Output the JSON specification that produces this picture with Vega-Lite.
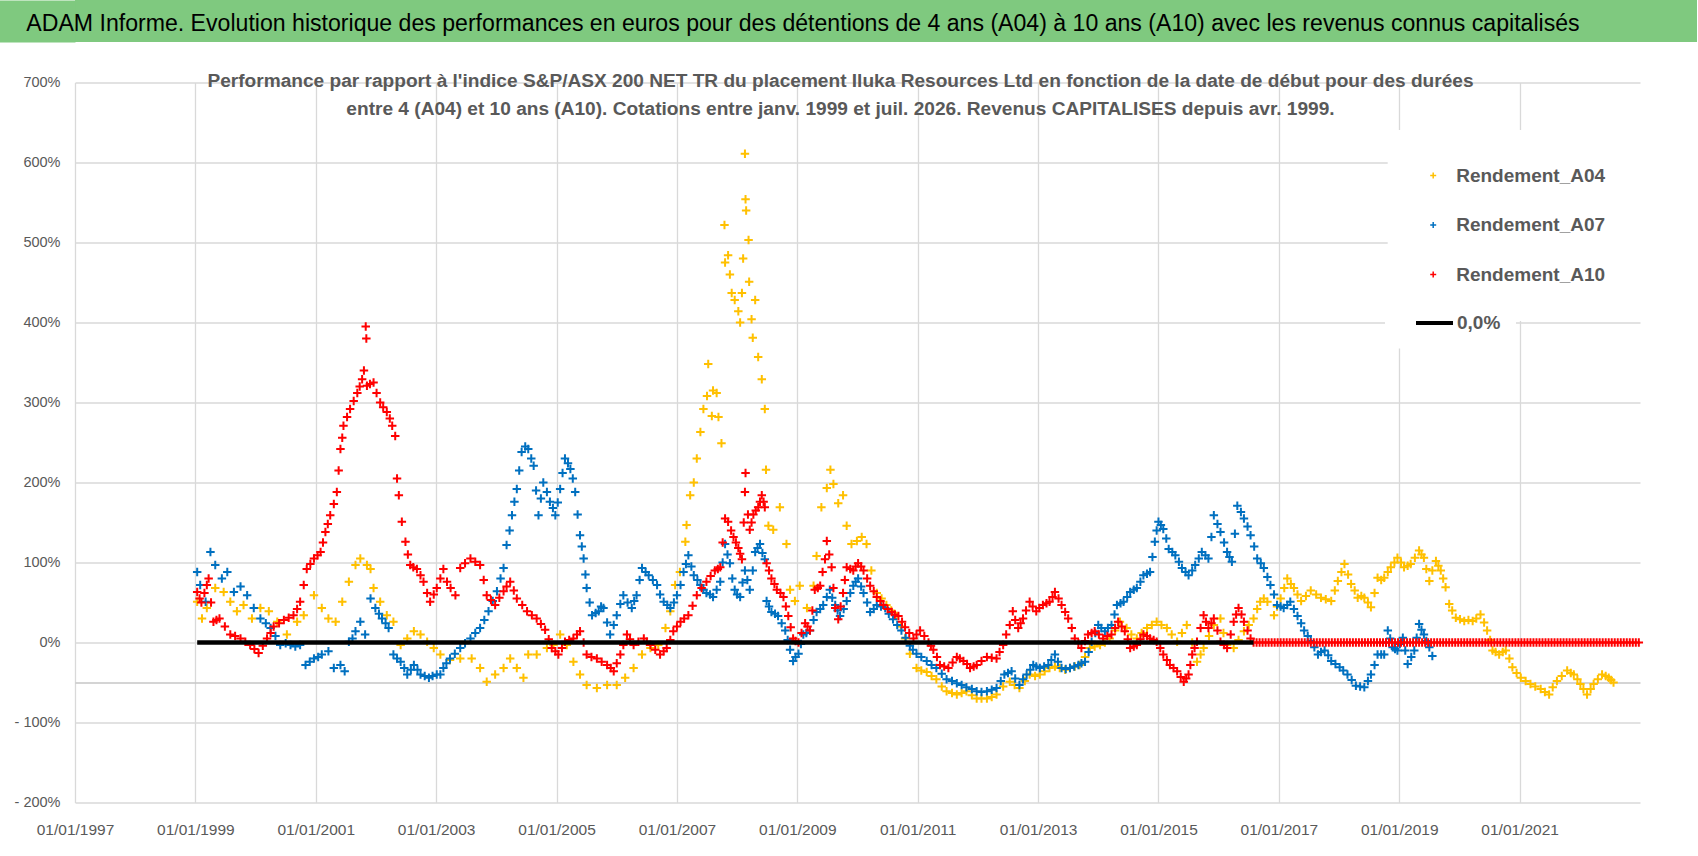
{
  "$schema": "https://vega.github.io/schema/vega-lite/v6.json",
  "description": "ADAM Informe: Iluka Resources Ltd performance vs S&P/ASX 200 NET TR, holding periods 4 to 10 years.",
  "padding": 0,
  "spacing": 29.5,
  "config": {"view": {"stroke": null}, "font": "Liberation Sans"},
  "datasets": {
    "a04": [
      {"t":1999.03,"v":51},{"t":1999.11,"v":30},{"t":1999.19,"v":43},{"t":1999.33,"v":68},{"t":1999.47,"v":63},{"t":1999.58,"v":51},{"t":1999.69,"v":39},{"t":1999.8,"v":47},{"t":1999.94,"v":30},{"t":2000.08,"v":43},{"t":2000.22,"v":39},{"t":2000.36,"v":26},{"t":2000.52,"v":10},{"t":2000.69,"v":26},{"t":2000.8,"v":34},{"t":2000.97,"v":59},{"t":2001.1,"v":43},{"t":2001.21,"v":30},{"t":2001.33,"v":26},{"t":2001.44,"v":51},{"t":2001.55,"v":76},{"t":2001.66,"v":97},{"t":2001.74,"v":105},{"t":2001.85,"v":97},{"t":2001.91,"v":92},{"t":2001.96,"v":68},{"t":2002.07,"v":51},{"t":2002.18,"v":34},{"t":2002.29,"v":26},{"t":2002.41,"v":-3},{"t":2002.52,"v":5},{"t":2002.63,"v":14},{"t":2002.74,"v":10},{"t":2002.85,"v":1},{"t":2002.96,"v":-7},{"t":2003.07,"v":-15},{"t":2003.23,"v":-22},{"t":2003.4,"v":-20},{"t":2003.59,"v":-20},{"t":2003.73,"v":-32},{"t":2003.84,"v":-49},{"t":2003.98,"v":-40},{"t":2004.12,"v":-32},{"t":2004.23,"v":-20},{"t":2004.34,"v":-32},{"t":2004.45,"v":-44},{"t":2004.53,"v":-15},{"t":2004.67,"v":-15},{"t":2004.84,"v":-7},{"t":2004.95,"v":-3},{"t":2005.06,"v":10},{"t":2005.17,"v":-3},{"t":2005.28,"v":-24},{"t":2005.39,"v":-40},{"t":2005.5,"v":-53},{"t":2005.67,"v":-57},{"t":2005.84,"v":-53},{"t":2006.0,"v":-53},{"t":2006.14,"v":-44},{"t":2006.28,"v":-32},{"t":2006.42,"v":-15},{"t":2006.56,"v":-7},{"t":2006.69,"v":-3},{"t":2006.81,"v":18},{"t":2006.89,"v":39},{"t":2006.97,"v":72},{"t":2007.05,"v":88},{"t":2007.14,"v":126},{"t":2007.16,"v":147},{"t":2007.22,"v":184},{"t":2007.28,"v":200},{"t":2007.33,"v":230},{"t":2007.39,"v":263},{"t":2007.44,"v":292},{"t":2007.5,"v":308},{"t":2007.52,"v":348},{"t":2007.58,"v":283},{"t":2007.6,"v":315},{"t":2007.66,"v":312},{"t":2007.69,"v":282},{"t":2007.74,"v":249},{"t":2007.79,"v":522},{"t":2007.8,"v":475},{"t":2007.85,"v":484},{"t":2007.88,"v":460},{"t":2007.91,"v":437},{"t":2007.96,"v":428},{"t":2008.02,"v":414},{"t":2008.05,"v":400},{"t":2008.08,"v":437},{"t":2008.1,"v":480},{"t":2008.13,"v":611},{"t":2008.14,"v":554},{"t":2008.15,"v":540},{"t":2008.19,"v":503},{"t":2008.2,"v":451},{"t":2008.24,"v":404},{"t":2008.26,"v":381},{"t":2008.3,"v":428},{"t":2008.35,"v":357},{"t":2008.41,"v":329},{"t":2008.46,"v":292},{"t":2008.48,"v":216},{"t":2008.52,"v":146},{"t":2008.6,"v":141},{"t":2008.71,"v":169},{"t":2008.82,"v":123},{"t":2008.88,"v":66},{"t":2008.96,"v":52},{"t":2009.04,"v":71},{"t":2009.16,"v":43},{"t":2009.27,"v":71},{"t":2009.32,"v":108},{"t":2009.4,"v":169},{"t":2009.49,"v":193},{"t":2009.55,"v":216},{"t":2009.6,"v":198},{"t":2009.68,"v":174},{"t":2009.76,"v":184},{"t":2009.82,"v":146},{"t":2009.9,"v":123},{"t":2009.99,"v":127},{"t":2010.07,"v":132},{"t":2010.15,"v":123},{"t":2010.23,"v":90},{"t":2010.32,"v":62},{"t":2010.4,"v":55},{"t":2010.48,"v":47},{"t":2010.56,"v":40},{"t":2010.65,"v":33},{"t":2010.72,"v":20},{"t":2010.79,"v":5},{"t":2010.87,"v":-14},{"t":2010.98,"v":-32},{"t":2011.06,"v":-35},{"t":2011.15,"v":-37},{"t":2011.23,"v":-42},{"t":2011.31,"v":-46},{"t":2011.4,"v":-55},{"t":2011.48,"v":-61},{"t":2011.57,"v":-63},{"t":2011.65,"v":-65},{"t":2011.73,"v":-63},{"t":2011.81,"v":-61},{"t":2011.9,"v":-66},{"t":2011.98,"v":-70},{"t":2012.06,"v":-70},{"t":2012.15,"v":-70},{"t":2012.23,"v":-68},{"t":2012.31,"v":-65},{"t":2012.42,"v":-55},{"t":2012.53,"v":-49},{"t":2012.61,"v":-53},{"t":2012.69,"v":-57},{"t":2012.78,"v":-48},{"t":2012.86,"v":-40},{"t":2012.95,"v":-42},{"t":2013.03,"v":-40},{"t":2013.11,"v":-36},{"t":2013.19,"v":-32},{"t":2013.28,"v":-30},{"t":2013.36,"v":-32},{"t":2013.45,"v":-34},{"t":2013.53,"v":-32},{"t":2013.61,"v":-30},{"t":2013.69,"v":-28},{"t":2013.78,"v":-18},{"t":2013.86,"v":-7},{"t":2013.94,"v":-5},{"t":2014.03,"v":-3},{"t":2014.11,"v":0},{"t":2014.19,"v":5},{"t":2014.28,"v":15},{"t":2014.36,"v":26},{"t":2014.47,"v":18},{"t":2014.55,"v":10},{"t":2014.64,"v":5},{"t":2014.72,"v":12},{"t":2014.81,"v":18},{"t":2014.89,"v":22},{"t":2014.97,"v":26},{"t":2015.05,"v":22},{"t":2015.14,"v":18},{"t":2015.22,"v":10},{"t":2015.31,"v":1},{"t":2015.39,"v":12},{"t":2015.47,"v":22},{"t":2015.56,"v":0},{"t":2015.64,"v":-24},{"t":2015.7,"v":-15},{"t":2015.75,"v":-7},{"t":2015.84,"v":8},{"t":2015.92,"v":22},{"t":2016.03,"v":30},{"t":2016.08,"v":12},{"t":2016.14,"v":-3},{"t":2016.25,"v":-7},{"t":2016.33,"v":3},{"t":2016.42,"v":14},{"t":2016.5,"v":22},{"t":2016.58,"v":30},{"t":2016.64,"v":42},{"t":2016.69,"v":51},{"t":2016.75,"v":55},{"t":2016.81,"v":51},{"t":2016.92,"v":34},{"t":2016.97,"v":45},{"t":2017.03,"v":55},{"t":2017.09,"v":68},{"t":2017.14,"v":80},{"t":2017.2,"v":73},{"t":2017.25,"v":68},{"t":2017.31,"v":60},{"t":2017.37,"v":52},{"t":2017.45,"v":58},{"t":2017.53,"v":65},{"t":2017.62,"v":60},{"t":2017.7,"v":56},{"t":2017.78,"v":54},{"t":2017.87,"v":52},{"t":2017.93,"v":65},{"t":2017.98,"v":77},{"t":2018.04,"v":88},{"t":2018.09,"v":98},{"t":2018.15,"v":85},{"t":2018.2,"v":73},{"t":2018.26,"v":65},{"t":2018.31,"v":56},{"t":2018.37,"v":58},{"t":2018.42,"v":56},{"t":2018.48,"v":50},{"t":2018.53,"v":44},{"t":2018.59,"v":62},{"t":2018.64,"v":81},{"t":2018.7,"v":78},{"t":2018.75,"v":81},{"t":2018.81,"v":88},{"t":2018.86,"v":94},{"t":2018.92,"v":100},{"t":2018.97,"v":106},{"t":2019.03,"v":100},{"t":2019.08,"v":94},{"t":2019.14,"v":96},{"t":2019.19,"v":98},{"t":2019.26,"v":106},{"t":2019.33,"v":115},{"t":2019.37,"v":110},{"t":2019.41,"v":106},{"t":2019.45,"v":92},{"t":2019.5,"v":77},{"t":2019.55,"v":90},{"t":2019.61,"v":102},{"t":2019.65,"v":96},{"t":2019.69,"v":90},{"t":2019.73,"v":80},{"t":2019.77,"v":69},{"t":2019.83,"v":48},{"t":2019.88,"v":40},{"t":2019.94,"v":31},{"t":2020.01,"v":29},{"t":2020.08,"v":27},{"t":2020.15,"v":28},{"t":2020.22,"v":27},{"t":2020.28,"v":30},{"t":2020.35,"v":35},{"t":2020.41,"v":25},{"t":2020.46,"v":15},{"t":2020.51,"v":3},{"t":2020.55,"v":-10},{"t":2020.6,"v":-12},{"t":2020.66,"v":-15},{"t":2020.72,"v":-12},{"t":2020.77,"v":-10},{"t":2020.83,"v":-20},{"t":2020.88,"v":-31},{"t":2020.95,"v":-38},{"t":2021.02,"v":-44},{"t":2021.1,"v":-48},{"t":2021.18,"v":-52},{"t":2021.26,"v":-55},{"t":2021.35,"v":-58},{"t":2021.42,"v":-62},{"t":2021.49,"v":-65},{"t":2021.55,"v":-56},{"t":2021.62,"v":-48},{"t":2021.7,"v":-42},{"t":2021.79,"v":-35},{"t":2021.85,"v":-38},{"t":2021.9,"v":-40},{"t":2021.96,"v":-46},{"t":2022.01,"v":-52},{"t":2022.06,"v":-58},{"t":2022.12,"v":-65},{"t":2022.18,"v":-58},{"t":2022.23,"v":-52},{"t":2022.3,"v":-46},{"t":2022.37,"v":-40},{"t":2022.43,"v":-42},{"t":2022.48,"v":-44},{"t":2022.52,"v":-47},{"t":2022.56,"v":-50}
    ],
    "a07": [
      {"t":1999.03,"v":88},{"t":1999.08,"v":72},{"t":1999.17,"v":51},{"t":1999.25,"v":113},{"t":1999.33,"v":97},{"t":1999.44,"v":80},{"t":1999.53,"v":88},{"t":1999.64,"v":63},{"t":1999.75,"v":70},{"t":1999.86,"v":59},{"t":1999.97,"v":43},{"t":2000.08,"v":30},{"t":2000.17,"v":24},{"t":2000.25,"v":18},{"t":2000.33,"v":8},{"t":2000.41,"v":-3},{"t":2000.5,"v":-1},{"t":2000.58,"v":-3},{"t":2000.66,"v":-5},{"t":2000.74,"v":-3},{"t":2000.83,"v":-28},{"t":2000.9,"v":-24},{"t":2000.97,"v":-20},{"t":2001.04,"v":-18},{"t":2001.1,"v":-15},{"t":2001.21,"v":-11},{"t":2001.3,"v":-32},{"t":2001.41,"v":-28},{"t":2001.48,"v":-36},{"t":2001.55,"v":1},{"t":2001.61,"v":5},{"t":2001.66,"v":14},{"t":2001.74,"v":26},{"t":2001.82,"v":10},{"t":2001.91,"v":55},{"t":2001.99,"v":43},{"t":2002.05,"v":36},{"t":2002.1,"v":30},{"t":2002.16,"v":24},{"t":2002.21,"v":18},{"t":2002.29,"v":-15},{"t":2002.35,"v":-20},{"t":2002.41,"v":-24},{"t":2002.47,"v":-32},{"t":2002.52,"v":-40},{"t":2002.58,"v":-34},{"t":2002.63,"v":-28},{"t":2002.69,"v":-34},{"t":2002.74,"v":-40},{"t":2002.81,"v":-42},{"t":2002.88,"v":-44},{"t":2002.94,"v":-42},{"t":2003.01,"v":-40},{"t":2003.07,"v":-40},{"t":2003.12,"v":-32},{"t":2003.17,"v":-26},{"t":2003.23,"v":-20},{"t":2003.31,"v":-14},{"t":2003.4,"v":-7},{"t":2003.48,"v":-1},{"t":2003.57,"v":5},{"t":2003.65,"v":12},{"t":2003.73,"v":18},{"t":2003.8,"v":28},{"t":2003.87,"v":39},{"t":2003.94,"v":52},{"t":2004.01,"v":64},{"t":2004.07,"v":80},{"t":2004.12,"v":93},{"t":2004.17,"v":122},{"t":2004.22,"v":140},{"t":2004.26,"v":159},{"t":2004.3,"v":176},{"t":2004.34,"v":192},{"t":2004.38,"v":215},{"t":2004.42,"v":238},{"t":2004.48,"v":245},{"t":2004.53,"v":242},{"t":2004.58,"v":230},{"t":2004.62,"v":221},{"t":2004.66,"v":190},{"t":2004.7,"v":159},{"t":2004.74,"v":180},{"t":2004.78,"v":200},{"t":2004.84,"v":188},{"t":2004.89,"v":176},{"t":2004.94,"v":168},{"t":2004.98,"v":159},{"t":2005.02,"v":175},{"t":2005.06,"v":192},{"t":2005.1,"v":212},{"t":2005.14,"v":230},{"t":2005.19,"v":224},{"t":2005.23,"v":217},{"t":2005.27,"v":205},{"t":2005.31,"v":188},{"t":2005.35,"v":160},{"t":2005.39,"v":134},{"t":2005.42,"v":120},{"t":2005.45,"v":105},{"t":2005.48,"v":85},{"t":2005.5,"v":68},{"t":2005.55,"v":50},{"t":2005.59,"v":34},{"t":2005.65,"v":37},{"t":2005.7,"v":39},{"t":2005.74,"v":45},{"t":2005.78,"v":43},{"t":2005.84,"v":25},{"t":2005.89,"v":10},{"t":2005.95,"v":22},{"t":2006.0,"v":34},{"t":2006.06,"v":48},{"t":2006.11,"v":59},{"t":2006.18,"v":50},{"t":2006.25,"v":43},{"t":2006.29,"v":52},{"t":2006.33,"v":59},{"t":2006.38,"v":78},{"t":2006.42,"v":93},{"t":2006.48,"v":88},{"t":2006.53,"v":84},{"t":2006.6,"v":78},{"t":2006.67,"v":72},{"t":2006.72,"v":60},{"t":2006.78,"v":51},{"t":2006.84,"v":47},{"t":2006.89,"v":43},{"t":2006.95,"v":50},{"t":2007.0,"v":59},{"t":2007.06,"v":72},{"t":2007.11,"v":88},{"t":2007.15,"v":98},{"t":2007.19,"v":109},{"t":2007.24,"v":95},{"t":2007.28,"v":84},{"t":2007.34,"v":78},{"t":2007.39,"v":72},{"t":2007.44,"v":66},{"t":2007.49,"v":62},{"t":2007.55,"v":60},{"t":2007.6,"v":57},{"t":2007.66,"v":66},{"t":2007.72,"v":76},{"t":2007.76,"v":100},{"t":2007.8,"v":123},{"t":2007.84,"v":110},{"t":2007.88,"v":99},{"t":2007.92,"v":80},{"t":2007.96,"v":66},{"t":2008.0,"v":60},{"t":2008.05,"v":57},{"t":2008.09,"v":75},{"t":2008.13,"v":90},{"t":2008.17,"v":78},{"t":2008.21,"v":66},{"t":2008.26,"v":90},{"t":2008.3,"v":113},{"t":2008.34,"v":118},{"t":2008.38,"v":123},{"t":2008.42,"v":112},{"t":2008.46,"v":104},{"t":2008.49,"v":52},{"t":2008.53,"v":45},{"t":2008.57,"v":38},{"t":2008.63,"v":36},{"t":2008.68,"v":33},{"t":2008.74,"v":24},{"t":2008.8,"v":15},{"t":2008.84,"v":3},{"t":2008.88,"v":-9},{"t":2008.93,"v":-23},{"t":2008.97,"v":-18},{"t":2009.02,"v":-14},{"t":2009.06,"v":-2},{"t":2009.1,"v":10},{"t":2009.15,"v":12},{"t":2009.21,"v":15},{"t":2009.27,"v":28},{"t":2009.32,"v":38},{"t":2009.38,"v":42},{"t":2009.43,"v":47},{"t":2009.49,"v":57},{"t":2009.54,"v":66},{"t":2009.58,"v":56},{"t":2009.63,"v":47},{"t":2009.67,"v":40},{"t":2009.71,"v":33},{"t":2009.77,"v":42},{"t":2009.82,"v":52},{"t":2009.88,"v":62},{"t":2009.93,"v":71},{"t":2009.97,"v":76},{"t":2010.01,"v":80},{"t":2010.06,"v":70},{"t":2010.1,"v":62},{"t":2010.16,"v":50},{"t":2010.21,"v":38},{"t":2010.27,"v":42},{"t":2010.32,"v":47},{"t":2010.39,"v":45},{"t":2010.46,"v":43},{"t":2010.52,"v":36},{"t":2010.59,"v":29},{"t":2010.66,"v":22},{"t":2010.73,"v":15},{"t":2010.8,"v":6},{"t":2010.87,"v":-4},{"t":2010.92,"v":-9},{"t":2010.98,"v":-14},{"t":2011.06,"v":-18},{"t":2011.15,"v":-23},{"t":2011.23,"v":-28},{"t":2011.31,"v":-32},{"t":2011.4,"v":-39},{"t":2011.48,"v":-46},{"t":2011.57,"v":-48},{"t":2011.65,"v":-51},{"t":2011.73,"v":-53},{"t":2011.81,"v":-56},{"t":2011.9,"v":-58},{"t":2011.98,"v":-61},{"t":2012.06,"v":-62},{"t":2012.15,"v":-61},{"t":2012.23,"v":-59},{"t":2012.31,"v":-57},{"t":2012.38,"v":-48},{"t":2012.44,"v":-40},{"t":2012.5,"v":-38},{"t":2012.56,"v":-36},{"t":2012.62,"v":-45},{"t":2012.69,"v":-53},{"t":2012.75,"v":-46},{"t":2012.81,"v":-40},{"t":2012.87,"v":-34},{"t":2012.92,"v":-28},{"t":2012.97,"v":-30},{"t":2013.03,"v":-32},{"t":2013.1,"v":-30},{"t":2013.17,"v":-28},{"t":2013.22,"v":-22},{"t":2013.28,"v":-15},{"t":2013.33,"v":-24},{"t":2013.39,"v":-32},{"t":2013.46,"v":-33},{"t":2013.53,"v":-32},{"t":2013.6,"v":-30},{"t":2013.67,"v":-28},{"t":2013.72,"v":-26},{"t":2013.78,"v":-24},{"t":2013.84,"v":-12},{"t":2013.89,"v":1},{"t":2013.95,"v":12},{"t":2014.0,"v":22},{"t":2014.05,"v":18},{"t":2014.11,"v":14},{"t":2014.16,"v":18},{"t":2014.22,"v":22},{"t":2014.27,"v":35},{"t":2014.31,"v":47},{"t":2014.37,"v":49},{"t":2014.42,"v":51},{"t":2014.48,"v":57},{"t":2014.53,"v":63},{"t":2014.59,"v":66},{"t":2014.64,"v":68},{"t":2014.7,"v":76},{"t":2014.75,"v":84},{"t":2014.81,"v":86},{"t":2014.86,"v":88},{"t":2014.9,"v":107},{"t":2014.94,"v":126},{"t":2014.97,"v":140},{"t":2015.0,"v":151},{"t":2015.04,"v":147},{"t":2015.08,"v":142},{"t":2015.13,"v":130},{"t":2015.17,"v":117},{"t":2015.23,"v":113},{"t":2015.28,"v":109},{"t":2015.34,"v":101},{"t":2015.39,"v":93},{"t":2015.45,"v":88},{"t":2015.5,"v":84},{"t":2015.56,"v":90},{"t":2015.61,"v":97},{"t":2015.67,"v":105},{"t":2015.72,"v":113},{"t":2015.78,"v":109},{"t":2015.83,"v":105},{"t":2015.88,"v":132},{"t":2015.92,"v":159},{"t":2015.98,"v":148},{"t":2016.03,"v":138},{"t":2016.09,"v":125},{"t":2016.14,"v":113},{"t":2016.18,"v":107},{"t":2016.22,"v":101},{"t":2016.27,"v":136},{"t":2016.31,"v":171},{"t":2016.37,"v":163},{"t":2016.42,"v":155},{"t":2016.48,"v":145},{"t":2016.53,"v":134},{"t":2016.59,"v":120},{"t":2016.64,"v":105},{"t":2016.7,"v":99},{"t":2016.75,"v":93},{"t":2016.81,"v":82},{"t":2016.86,"v":72},{"t":2016.92,"v":60},{"t":2016.97,"v":47},{"t":2017.03,"v":45},{"t":2017.08,"v":43},{"t":2017.14,"v":47},{"t":2017.19,"v":51},{"t":2017.25,"v":42},{"t":2017.31,"v":33},{"t":2017.37,"v":24},{"t":2017.42,"v":15},{"t":2017.48,"v":8},{"t":2017.53,"v":2},{"t":2017.59,"v":-6},{"t":2017.65,"v":-15},{"t":2017.7,"v":-12},{"t":2017.76,"v":-10},{"t":2017.82,"v":-16},{"t":2017.87,"v":-23},{"t":2017.94,"v":-27},{"t":2018.01,"v":-31},{"t":2018.07,"v":-35},{"t":2018.14,"v":-40},{"t":2018.21,"v":-47},{"t":2018.28,"v":-54},{"t":2018.35,"v":-55},{"t":2018.42,"v":-56},{"t":2018.48,"v":-48},{"t":2018.53,"v":-40},{"t":2018.59,"v":-28},{"t":2018.64,"v":-15},{"t":2018.7,"v":-15},{"t":2018.75,"v":-15},{"t":2018.78,"v":0},{"t":2018.81,"v":15},{"t":2018.85,"v":5},{"t":2018.89,"v":-6},{"t":2018.93,"v":-8},{"t":2018.97,"v":-10},{"t":2019.01,"v":-2},{"t":2019.06,"v":6},{"t":2019.1,"v":-10},{"t":2019.14,"v":-27},{"t":2019.2,"v":-18},{"t":2019.25,"v":-10},{"t":2019.29,"v":6},{"t":2019.33,"v":23},{"t":2019.37,"v":16},{"t":2019.41,"v":10},{"t":2019.45,"v":2},{"t":2019.5,"v":-6},{"t":2019.55,"v":-17}
    ],
    "a10": [
      {"t":1999.03,"v":63},{"t":1999.07,"v":55},{"t":1999.1,"v":50},{"t":1999.15,"v":62},{"t":1999.19,"v":72},{"t":1999.22,"v":80},{"t":1999.26,"v":50},{"t":1999.3,"v":26},{"t":1999.35,"v":28},{"t":1999.4,"v":30},{"t":1999.49,"v":20},{"t":1999.58,"v":10},{"t":1999.66,"v":8},{"t":1999.75,"v":5},{"t":1999.83,"v":1},{"t":1999.91,"v":-3},{"t":1999.98,"v":-8},{"t":2000.05,"v":-13},{"t":2000.12,"v":-4},{"t":2000.19,"v":5},{"t":2000.25,"v":12},{"t":2000.3,"v":20},{"t":2000.39,"v":24},{"t":2000.47,"v":28},{"t":2000.55,"v":31},{"t":2000.63,"v":34},{"t":2000.69,"v":42},{"t":2000.74,"v":51},{"t":2000.8,"v":72},{"t":2000.85,"v":92},{"t":2000.91,"v":98},{"t":2000.97,"v":105},{"t":2001.03,"v":109},{"t":2001.08,"v":113},{"t":2001.12,"v":125},{"t":2001.16,"v":138},{"t":2001.2,"v":148},{"t":2001.24,"v":159},{"t":2001.3,"v":173},{"t":2001.35,"v":188},{"t":2001.38,"v":215},{"t":2001.41,"v":242},{"t":2001.44,"v":256},{"t":2001.46,"v":271},{"t":2001.52,"v":282},{"t":2001.57,"v":292},{"t":2001.63,"v":302},{"t":2001.69,"v":312},{"t":2001.73,"v":320},{"t":2001.77,"v":329},{"t":2001.8,"v":340},{"t":2001.83,"v":395},{"t":2001.84,"v":380},{"t":2001.85,"v":321},{"t":2001.9,"v":323},{"t":2001.96,"v":325},{"t":2002.01,"v":312},{"t":2002.07,"v":300},{"t":2002.12,"v":294},{"t":2002.18,"v":288},{"t":2002.23,"v":280},{"t":2002.27,"v":271},{"t":2002.32,"v":258},{"t":2002.35,"v":205},{"t":2002.38,"v":184},{"t":2002.43,"v":151},{"t":2002.49,"v":126},{"t":2002.53,"v":110},{"t":2002.57,"v":97},{"t":2002.62,"v":94},{"t":2002.68,"v":92},{"t":2002.74,"v":84},{"t":2002.79,"v":76},{"t":2002.85,"v":62},{"t":2002.9,"v":51},{"t":2002.96,"v":60},{"t":2003.01,"v":68},{"t":2003.07,"v":80},{"t":2003.12,"v":92},{"t":2003.18,"v":76},{"t":2003.24,"v":68},{"t":2003.32,"v":59},{"t":2003.4,"v":93},{"t":2003.48,"v":99},{"t":2003.57,"v":105},{"t":2003.65,"v":101},{"t":2003.73,"v":97},{"t":2003.79,"v":78},{"t":2003.84,"v":59},{"t":2003.91,"v":53},{"t":2003.98,"v":47},{"t":2004.05,"v":56},{"t":2004.12,"v":64},{"t":2004.17,"v":70},{"t":2004.23,"v":76},{"t":2004.29,"v":65},{"t":2004.34,"v":55},{"t":2004.43,"v":47},{"t":2004.51,"v":39},{"t":2004.59,"v":34},{"t":2004.67,"v":30},{"t":2004.74,"v":23},{"t":2004.81,"v":16},{"t":2004.87,"v":4},{"t":2004.92,"v":-7},{"t":2004.98,"v":-11},{"t":2005.03,"v":-15},{"t":2005.09,"v":-7},{"t":2005.14,"v":1},{"t":2005.21,"v":3},{"t":2005.28,"v":5},{"t":2005.34,"v":10},{"t":2005.39,"v":14},{"t":2005.45,"v":0},{"t":2005.5,"v":-15},{"t":2005.58,"v":-18},{"t":2005.67,"v":-20},{"t":2005.75,"v":-24},{"t":2005.84,"v":-28},{"t":2005.9,"v":-32},{"t":2005.95,"v":-36},{"t":2006.0,"v":-26},{"t":2006.06,"v":-15},{"t":2006.11,"v":-3},{"t":2006.17,"v":10},{"t":2006.22,"v":4},{"t":2006.28,"v":-3},{"t":2006.36,"v":1},{"t":2006.45,"v":5},{"t":2006.5,"v":1},{"t":2006.56,"v":-3},{"t":2006.64,"v":-9},{"t":2006.72,"v":-15},{"t":2006.78,"v":-11},{"t":2006.83,"v":-7},{"t":2006.89,"v":3},{"t":2006.94,"v":14},{"t":2007.0,"v":20},{"t":2007.06,"v":26},{"t":2007.12,"v":30},{"t":2007.19,"v":34},{"t":2007.26,"v":46},{"t":2007.33,"v":59},{"t":2007.41,"v":68},{"t":2007.49,"v":76},{"t":2007.56,"v":83},{"t":2007.63,"v":90},{"t":2007.68,"v":92},{"t":2007.72,"v":94},{"t":2007.76,"v":125},{"t":2007.8,"v":155},{"t":2007.85,"v":151},{"t":2007.9,"v":140},{"t":2007.94,"v":132},{"t":2007.98,"v":125},{"t":2008.02,"v":118},{"t":2008.05,"v":111},{"t":2008.08,"v":104},{"t":2008.11,"v":150},{"t":2008.13,"v":188},{"t":2008.14,"v":212},{"t":2008.18,"v":160},{"t":2008.21,"v":141},{"t":2008.24,"v":150},{"t":2008.27,"v":160},{"t":2008.31,"v":165},{"t":2008.35,"v":169},{"t":2008.38,"v":176},{"t":2008.41,"v":184},{"t":2008.44,"v":176},{"t":2008.46,"v":169},{"t":2008.49,"v":99},{"t":2008.53,"v":90},{"t":2008.57,"v":80},{"t":2008.62,"v":73},{"t":2008.66,"v":66},{"t":2008.72,"v":62},{"t":2008.77,"v":57},{"t":2008.81,"v":45},{"t":2008.85,"v":33},{"t":2008.89,"v":19},{"t":2008.93,"v":5},{"t":2008.97,"v":2},{"t":2009.02,"v":0},{"t":2009.07,"v":12},{"t":2009.13,"v":24},{"t":2009.17,"v":20},{"t":2009.21,"v":15},{"t":2009.25,"v":40},{"t":2009.29,"v":66},{"t":2009.34,"v":68},{"t":2009.38,"v":71},{"t":2009.42,"v":88},{"t":2009.46,"v":104},{"t":2009.49,"v":127},{"t":2009.53,"v":110},{"t":2009.57,"v":94},{"t":2009.6,"v":68},{"t":2009.63,"v":43},{"t":2009.68,"v":29},{"t":2009.72,"v":45},{"t":2009.76,"v":62},{"t":2009.79,"v":78},{"t":2009.82,"v":94},{"t":2009.88,"v":92},{"t":2009.93,"v":90},{"t":2009.97,"v":95},{"t":2010.01,"v":99},{"t":2010.06,"v":95},{"t":2010.1,"v":90},{"t":2010.16,"v":80},{"t":2010.21,"v":71},{"t":2010.27,"v":64},{"t":2010.32,"v":57},{"t":2010.38,"v":52},{"t":2010.43,"v":47},{"t":2010.5,"v":42},{"t":2010.57,"v":38},{"t":2010.62,"v":35},{"t":2010.68,"v":33},{"t":2010.74,"v":26},{"t":2010.79,"v":19},{"t":2010.86,"v":12},{"t":2010.93,"v":5},{"t":2010.98,"v":10},{"t":2011.04,"v":15},{"t":2011.11,"v":8},{"t":2011.18,"v":0},{"t":2011.22,"v":-4},{"t":2011.26,"v":-9},{"t":2011.32,"v":-18},{"t":2011.37,"v":-28},{"t":2011.44,"v":-30},{"t":2011.51,"v":-32},{"t":2011.58,"v":-25},{"t":2011.65,"v":-18},{"t":2011.7,"v":-20},{"t":2011.76,"v":-23},{"t":2011.82,"v":-27},{"t":2011.87,"v":-32},{"t":2011.93,"v":-30},{"t":2011.98,"v":-28},{"t":2012.06,"v":-23},{"t":2012.15,"v":-18},{"t":2012.23,"v":-19},{"t":2012.31,"v":-20},{"t":2012.36,"v":-12},{"t":2012.42,"v":-3},{"t":2012.47,"v":10},{"t":2012.53,"v":22},{"t":2012.58,"v":39},{"t":2012.62,"v":28},{"t":2012.67,"v":18},{"t":2012.71,"v":24},{"t":2012.75,"v":30},{"t":2012.8,"v":40},{"t":2012.86,"v":51},{"t":2012.91,"v":45},{"t":2012.97,"v":39},{"t":2013.02,"v":43},{"t":2013.08,"v":47},{"t":2013.14,"v":49},{"t":2013.19,"v":51},{"t":2013.24,"v":57},{"t":2013.28,"v":63},{"t":2013.34,"v":55},{"t":2013.39,"v":47},{"t":2013.45,"v":38},{"t":2013.5,"v":30},{"t":2013.56,"v":18},{"t":2013.61,"v":5},{"t":2013.67,"v":-1},{"t":2013.72,"v":-7},{"t":2013.78,"v":2},{"t":2013.83,"v":10},{"t":2013.89,"v":12},{"t":2013.94,"v":14},{"t":2014.01,"v":10},{"t":2014.08,"v":5},{"t":2014.15,"v":8},{"t":2014.22,"v":10},{"t":2014.28,"v":18},{"t":2014.33,"v":26},{"t":2014.39,"v":20},{"t":2014.44,"v":14},{"t":2014.49,"v":4},{"t":2014.53,"v":-7},{"t":2014.59,"v":-5},{"t":2014.64,"v":-3},{"t":2014.7,"v":4},{"t":2014.75,"v":10},{"t":2014.81,"v":8},{"t":2014.86,"v":5},{"t":2014.92,"v":3},{"t":2014.97,"v":1},{"t":2015.03,"v":-7},{"t":2015.08,"v":-15},{"t":2015.14,"v":-22},{"t":2015.19,"v":-28},{"t":2015.25,"v":-32},{"t":2015.31,"v":-36},{"t":2015.37,"v":-43},{"t":2015.42,"v":-49},{"t":2015.46,"v":-45},{"t":2015.5,"v":-40},{"t":2015.53,"v":-28},{"t":2015.56,"v":-15},{"t":2015.6,"v":-7},{"t":2015.64,"v":1},{"t":2015.7,"v":18},{"t":2015.75,"v":34},{"t":2015.79,"v":26},{"t":2015.83,"v":18},{"t":2015.88,"v":24},{"t":2015.92,"v":30},{"t":2015.98,"v":15},{"t":2016.03,"v":1},{"t":2016.09,"v":-3},{"t":2016.14,"v":-7},{"t":2016.2,"v":10},{"t":2016.25,"v":26},{"t":2016.29,"v":35},{"t":2016.33,"v":43},{"t":2016.38,"v":35},{"t":2016.42,"v":26},{"t":2016.48,"v":15},{"t":2016.53,"v":5},
      {"t":2016.58,"v":0},{"t":2016.63,"v":0},{"t":2016.68,"v":0},{"t":2016.73,"v":0},{"t":2016.78,"v":0},{"t":2016.83,"v":0},{"t":2016.88,"v":0},{"t":2016.93,"v":0},{"t":2016.98,"v":0},{"t":2017.03,"v":0},{"t":2017.08,"v":0},{"t":2017.13,"v":0},{"t":2017.18,"v":0},{"t":2017.23,"v":0},{"t":2017.28,"v":0},{"t":2017.33,"v":0},{"t":2017.38,"v":0},{"t":2017.43,"v":0},{"t":2017.48,"v":0},{"t":2017.53,"v":0},{"t":2017.58,"v":0},{"t":2017.63,"v":0},{"t":2017.68,"v":0},{"t":2017.73,"v":0},{"t":2017.78,"v":0},{"t":2017.83,"v":0},{"t":2017.88,"v":0},{"t":2017.93,"v":0},{"t":2017.98,"v":0},{"t":2018.03,"v":0},{"t":2018.08,"v":0},{"t":2018.13,"v":0},{"t":2018.18,"v":0},{"t":2018.23,"v":0},{"t":2018.28,"v":0},{"t":2018.33,"v":0},{"t":2018.38,"v":0},{"t":2018.43,"v":0},{"t":2018.48,"v":0},{"t":2018.53,"v":0},{"t":2018.58,"v":0},{"t":2018.63,"v":0},{"t":2018.68,"v":0},{"t":2018.73,"v":0},{"t":2018.78,"v":0},{"t":2018.83,"v":0},{"t":2018.88,"v":0},{"t":2018.93,"v":0},{"t":2018.98,"v":0},{"t":2019.03,"v":0},{"t":2019.08,"v":0},{"t":2019.13,"v":0},{"t":2019.18,"v":0},{"t":2019.23,"v":0},{"t":2019.28,"v":0},{"t":2019.33,"v":0},{"t":2019.38,"v":0},{"t":2019.43,"v":0},{"t":2019.48,"v":0},{"t":2019.53,"v":0},{"t":2019.58,"v":0},{"t":2019.63,"v":0},{"t":2019.68,"v":0},{"t":2019.73,"v":0},{"t":2019.78,"v":0},{"t":2019.83,"v":0},{"t":2019.88,"v":0},{"t":2019.93,"v":0},{"t":2019.98,"v":0},{"t":2020.03,"v":0},{"t":2020.08,"v":0},{"t":2020.13,"v":0},{"t":2020.18,"v":0},{"t":2020.23,"v":0},{"t":2020.28,"v":0},{"t":2020.33,"v":0},{"t":2020.38,"v":0},{"t":2020.43,"v":0},{"t":2020.48,"v":0},{"t":2020.53,"v":0},{"t":2020.58,"v":0},{"t":2020.63,"v":0},{"t":2020.68,"v":0},{"t":2020.73,"v":0},{"t":2020.78,"v":0},{"t":2020.83,"v":0},{"t":2020.88,"v":0},{"t":2020.93,"v":0},{"t":2020.98,"v":0},{"t":2021.03,"v":0},{"t":2021.08,"v":0},{"t":2021.13,"v":0},{"t":2021.18,"v":0},{"t":2021.23,"v":0},{"t":2021.28,"v":0},{"t":2021.33,"v":0},{"t":2021.38,"v":0},{"t":2021.43,"v":0},{"t":2021.48,"v":0},{"t":2021.53,"v":0},{"t":2021.58,"v":0},{"t":2021.63,"v":0},{"t":2021.68,"v":0},{"t":2021.73,"v":0},{"t":2021.78,"v":0},{"t":2021.83,"v":0},{"t":2021.88,"v":0},{"t":2021.93,"v":0},{"t":2021.98,"v":0},{"t":2022.03,"v":0},{"t":2022.08,"v":0},{"t":2022.13,"v":0},{"t":2022.18,"v":0},{"t":2022.23,"v":0},{"t":2022.28,"v":0},{"t":2022.33,"v":0},{"t":2022.38,"v":0},{"t":2022.43,"v":0},{"t":2022.48,"v":0},{"t":2022.53,"v":0},{"t":2022.58,"v":0},{"t":2022.63,"v":0},{"t":2022.68,"v":0},{"t":2022.73,"v":0},{"t":2022.78,"v":0},{"t":2022.83,"v":0},{"t":2022.88,"v":0},{"t":2022.93,"v":0},{"t":2022.98,"v":0}
    ],
    "zero": [{"t":1999.03,"v":0},{"t":2016.58,"v":0}]
  },
  "vconcat": [
    {
      "width": 1622,
      "height": 42,
      "view": {"fill": "#7fc97f", "stroke": null},
      "data": {"values": [{"title": "ADAM Informe. Evolution historique des performances en euros pour des détentions de 4 ans (A04) à 10 ans (A10) avec les revenus connus capitalisés"}]},
      "mark": {"type": "text", "fontSize": 23.1, "color": "#000000", "baseline": "middle", "dx": -83, "dy": 3},
      "encoding": {
        "text": {"field": "title", "type": "nominal"},
        "y": {
          "datum": 1,
          "type": "quantitative",
          "scale": {"domain": [0, 2]},
          "axis": {"title": null, "labels": false, "ticks": false, "grid": false, "domainColor": "#7fc97f", "domainWidth": 76, "domainCap": "butt", "offset": 38}
        }
      }
    },
    {
      "width": 1565,
      "height": 720,
      "title": {
        "text": [
          "Performance par rapport à l'indice S&P/ASX 200 NET TR  du placement Iluka Resources Ltd en fonction de la date de début pour des durées",
          "entre 4 (A04) et 10 ans (A10). Cotations entre janv. 1999 et juil. 2026. Revenus CAPITALISES depuis avr. 1999."
        ],
        "anchor": "middle",
        "frame": "group",
        "offset": -45,
        "dx": -17,
        "fontSize": 19.1,
        "fontWeight": "bold",
        "color": "#595959",
        "lineHeight": 28
      },
      "encoding": {
        "x": {
          "field": "t",
          "type": "quantitative",
          "scale": {"domain": [1997, 2023], "nice": false, "zero": false},
          "axis": {
            "title": null,
            "values": [1997, 1999, 2001, 2003, 2005, 2007, 2009, 2011, 2013, 2015, 2017, 2019, 2021],
            "labelExpr": "'01/01/' + datum.value",
            "grid": true,
            "gridColor": "#d9d9d9",
            "gridWidth": 1.3,
            "ticks": false,
            "domain": false,
            "labelFontSize": 15.5,
            "labelColor": "#595959",
            "labelBaseline": "middle",
            "labelPadding": 27,
            "labelFlush": false,
            "labelOverlap": false
          }
        },
        "y": {
          "field": "v",
          "type": "quantitative",
          "scale": {"domain": [-200, 700], "nice": false, "zero": false},
          "axis": {
            "title": " ",
            "titleFontSize": 2,
            "titlePadding": 12,
            "values": [-200, -100, -50, 0, 100, 200, 300, 400, 500, 600, 700],
            "labelExpr": "datum.value == -50 ? '' : (datum.value < 0 ? '- ' + (-datum.value) + '%' : datum.value + '%')",
            "grid": true,
            "gridColor": {"condition": {"test": "datum.value == -50", "value": "#c6c6c6"}, "value": "#d9d9d9"},
            "gridWidth": 1.3,
            "ticks": false,
            "domain": false,
            "labelFontSize": 14.5,
            "labelColor": "#595959",
            "labelPadding": 15,
            "labelOverlap": false
          }
        }
      },
      "layer": [
        {
          "data": {"name": "a04"},
          "mark": {"type": "point", "shape": "M-1,0H1M0,-1V1", "filled": false, "size": 72, "strokeWidth": 2, "opacity": 1},
          "encoding": {
            "color": {
              "datum": "Rendement_A04",
              "scale": {"domain": ["Rendement_A04", "Rendement_A07", "Rendement_A10"], "range": ["#FFC000", "#0070C0", "#FF0000"]},
              "legend": {
                "title": null,
                "orient": "none",
                "legendX": 1312.7,
                "legendY": 130,
                "padding": 36,
                "fillColor": "white",
                "symbolType": "M-1,0H1M0,-1V1",
                "symbolSize": 36,
                "symbolStrokeWidth": 1.5,
                "symbolOffset": 0,
                "labelOffset": 13.5,
                "rowPadding": 29.5,
                "labelLimit": 400,
                "labelFontSize": 19,
                "labelFontWeight": "bold",
                "labelColor": "#595959"
              }
            }
          }
        },
        {
          "data": {"name": "a07"},
          "mark": {"type": "point", "shape": "M-1,0H1M0,-1V1", "filled": false, "size": 72, "strokeWidth": 2, "opacity": 1},
          "encoding": {"color": {"datum": "Rendement_A07"}}
        },
        {
          "data": {"name": "a10"},
          "mark": {"type": "point", "shape": "M-1,0H1M0,-1V1", "filled": false, "size": 72, "strokeWidth": 2, "opacity": 1},
          "encoding": {"color": {"datum": "Rendement_A10"}}
        },
        {
          "data": {"name": "zero"},
          "mark": {"type": "line", "strokeWidth": 4.5},
          "encoding": {
            "stroke": {
              "datum": "0,0%",
              "scale": {"range": ["#000000"]},
              "legend": {
                "title": null,
                "orient": "none",
                "legendX": 1310,
                "legendY": 287.4,
                "padding": 15,
                "fillColor": "white",
                "symbolType": "stroke",
                "symbolSize": 1369,
                "symbolStrokeWidth": 4,
                "symbolOffset": 14,
                "labelOffset": 2,
                "labelFontSize": 19,
                "labelFontWeight": "bold",
                "labelColor": "#595959"
              }
            }
          }
        }
      ]
    }
  ]
}
